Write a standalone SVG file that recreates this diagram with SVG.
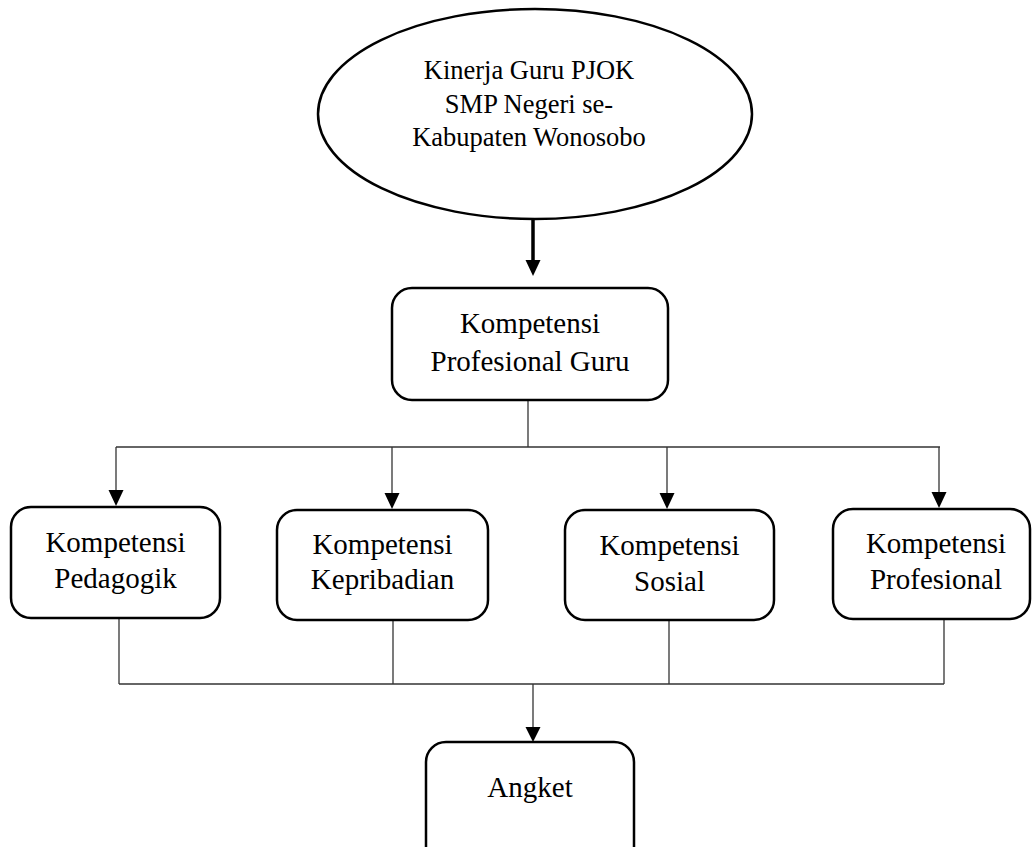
<svg xmlns="http://www.w3.org/2000/svg" width="1032" height="847" viewBox="0 0 1032 847">
<style>
.node{fill:#fff;stroke:#000;stroke-width:2.5}
.t{font-family:"Liberation Serif","Times New Roman",serif;fill:#000;text-anchor:middle}
.big{font-size:29px}
.top{font-size:26.5px}
.conn{stroke:#333;stroke-width:1.3;fill:none}
.head{fill:#000}
</style>
<rect width="1032" height="847" fill="#fff"/>
<g id="connectors">
  <line x1="533" y1="219" x2="533" y2="262" stroke="#000" stroke-width="3.5"/>
  <polygon class="head" points="525.5,260 540.5,260 533,276"/>
  <line class="conn" x1="528" y1="400" x2="528" y2="447"/>
  <line class="conn" x1="116" y1="447" x2="940" y2="447"/>
  <line class="conn" x1="116" y1="447" x2="116" y2="492"/>
  <polygon class="head" points="108.5,490 123.5,490 116,506"/>
  <line class="conn" x1="392" y1="447" x2="392" y2="494"/>
  <polygon class="head" points="384.5,493 399.5,493 392,509"/>
  <line class="conn" x1="667" y1="447" x2="667" y2="494"/>
  <polygon class="head" points="659.5,493 674.5,493 667,509"/>
  <line class="conn" x1="939" y1="447" x2="939" y2="493"/>
  <polygon class="head" points="931.5,492 946.5,492 939,508"/>
  <line class="conn" x1="119" y1="618" x2="119" y2="684"/>
  <line class="conn" x1="393" y1="620" x2="393" y2="684"/>
  <line class="conn" x1="669" y1="620" x2="669" y2="684"/>
  <line class="conn" x1="944" y1="619" x2="944" y2="684"/>
  <line class="conn" x1="119" y1="684" x2="944" y2="684"/>
  <line class="conn" x1="533" y1="684" x2="533" y2="728"/>
  <polygon class="head" points="525.5,727 540.5,727 533,742"/>
</g>
<g id="kinerja">
  <ellipse class="node" cx="535" cy="114" rx="217" ry="105"/>
  <text class="t top" x="529" y="79">Kinerja Guru PJOK</text>
  <text class="t top" x="529" y="112.5">SMP Negeri se-</text>
  <text class="t top" x="529" y="146">Kabupaten Wonosobo</text>
</g>
<g id="profesional-guru">
  <rect class="node" x="392" y="288" width="276" height="112" rx="20"/>
  <text class="t big" x="530" y="333">Kompetensi</text>
  <text class="t big" x="530" y="371">Profesional Guru</text>
</g>
<g id="pedagogik">
  <rect class="node" x="11" y="507" width="209" height="111" rx="20"/>
  <text class="t big" x="115.5" y="552">Kompetensi</text>
  <text class="t big" x="115.5" y="588">Pedagogik</text>
</g>
<g id="kepribadian">
  <rect class="node" x="277" y="510" width="211" height="110" rx="20"/>
  <text class="t big" x="382.5" y="554">Kompetensi</text>
  <text class="t big" x="382.5" y="589">Kepribadian</text>
</g>
<g id="sosial">
  <rect class="node" x="565" y="510" width="209" height="110" rx="20"/>
  <text class="t big" x="669.5" y="555">Kompetensi</text>
  <text class="t big" x="669.5" y="591">Sosial</text>
</g>
<g id="profesional">
  <rect class="node" x="833" y="509" width="197" height="110" rx="20"/>
  <text class="t big" x="936" y="553">Kompetensi</text>
  <text class="t big" x="936" y="589">Profesional</text>
</g>
<g id="angket">
  <rect class="node" x="426" y="742" width="208" height="125" rx="20"/>
  <text class="t big" x="530" y="797">Angket</text>
</g>
</svg>
